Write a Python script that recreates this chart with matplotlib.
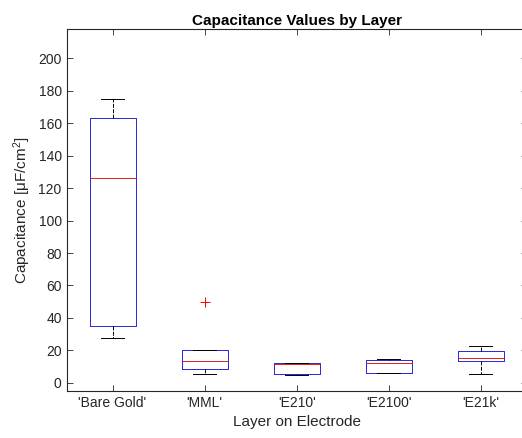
import numpy as np
import matplotlib
matplotlib.use("Agg")
import matplotlib.pyplot as plt

plt.rcParams['font.family'] = ['Liberation Sans', 'DejaVu Sans']
plt.rcParams['mathtext.default'] = 'regular'

# box statistics per layer
layers = ["'Bare Gold'", "'MML'", "'E210'", "'E2100'", "'E21k'"]
whislo = [27.5, 5.5, 4.9, 5.9, 5.5]
q1 = [35.0, 8.4, 5.3, 6.1, 13.5]
med = [126.0, 13.5, 11.9, 12.5, 15.1]
q3 = [163.0, 20.1, 12.1, 14.2, 19.9]
whishi = [175.0, 20.5, 12.5, 14.8, 23.0]
fliers = [[], [50.0], [], [], []]

stats = []
for i in range(len(layers)):
    stats.append(dict(whislo=whislo[i], q1=q1[i], med=med[i], q3=q3[i],
                      whishi=whishi[i], fliers=fliers[i]))

fig = plt.figure(figsize=(5.22, 4.38), dpi=100)
ax = fig.add_axes([66.5 / 522, 47 / 438, (527 - 66.5) / 522, 362 / 438])

dark = (0.15, 0.15, 0.15)
ax.bxp(stats, positions=np.arange(1, 6), widths=0.5,
       boxprops=dict(color=(0.15, 0.15, 0.85), linewidth=0.7),
       medianprops=dict(color=(0.9, 0.1, 0.1), linewidth=0.7),
       whiskerprops=dict(color='black', linewidth=0.7, linestyle=(0, (4, 1.5))),
       capprops=dict(color='black', linewidth=0.7),
       flierprops=dict(marker='+', markeredgecolor='red', markersize=7,
                       markeredgewidth=0.7, linestyle='none'))

ax.set_xlim(0.5, 5.5)
ax.set_ylim(-5, 218)
ax.set_yticks(np.arange(0, 201, 20))
ax.set_xticks(np.arange(1, 6))
ax.set_xticklabels(layers)

for s in ax.spines.values():
    s.set_color(dark)
    s.set_linewidth(0.8)
ax.spines['right'].set_visible(False)
ax.tick_params(direction='in', top=True, right=True, colors=dark,
               labelsize=10, length=4, width=0.6)

ax.set_title('Capacitance Values by Layer', fontsize=11, fontweight='bold',
             color='black', pad=3)
ax.set_xlabel('Layer on Electrode', fontsize=11, color=dark)
ax.set_ylabel('Capacitance [μF/cm$^2$]', fontsize=11, color=dark)

plt.savefig('out.png', dpi=100)
